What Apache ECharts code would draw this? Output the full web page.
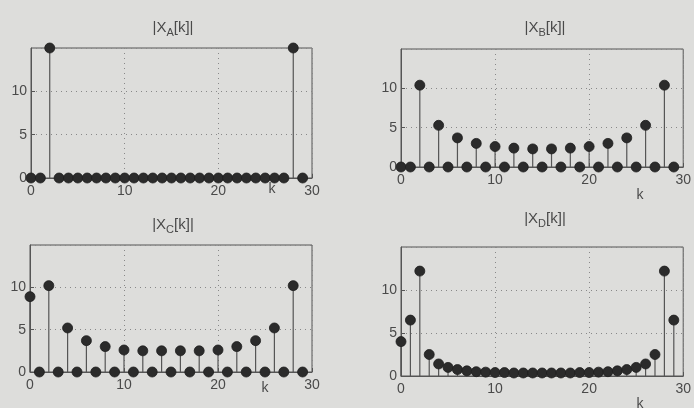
<!DOCTYPE html>
<html>
<head>
<meta charset="utf-8">
<script src="https://cdn.jsdelivr.net/npm/echarts@6/dist/echarts.min.js"></script>
<style>
html,body{margin:0;padding:0;background:#dddddb;}
#chart{width:694px;height:408px;}
</style>
</head>
<body>
<div id="chart"></div>
<script>
const kValues = [0,1,2,3,4,5,6,7,8,9,10,11,12,13,14,15,16,17,18,19,20,21,22,23,24,25,26,27,28,29];
const xA = [0,0,15,0,0,0,0,0,0,0,0,0,0,0,0,0,0,0,0,0,0,0,0,0,0,0,0,0,15,0];
const xB = [0,0,10.4,0,5.3,0,3.7,0,3.0,0,2.6,0,2.4,0,2.3,0,2.3,0,2.4,0,2.6,0,3.0,0,3.7,0,5.3,0,10.4,0];
const xC = [8.9,0,10.2,0,5.2,0,3.7,0,3.0,0,2.6,0,2.5,0,2.5,0,2.5,0,2.5,0,2.6,0,3.0,0,3.7,0,5.2,0,10.2,0];
const xD = [4.0,6.5,12.2,2.5,1.4,1.0,0.75,0.6,0.5,0.45,0.4,0.4,0.35,0.35,0.35,0.35,0.35,0.35,0.35,0.4,0.4,0.45,0.5,0.6,0.75,1.0,1.4,2.5,12.2,6.5];
const xTicks = [0,10,20,30];
const yTicks = [0,5,10];
const panelNames = ['A','B','C','D'];

const chart = echarts.init(document.getElementById('chart'));
const FONT = 'Liberation Sans';
const TXT = '#4a4a4a';

const grids = [
  {left:31, top:48, width:281, height:130},
  {left:401, top:49, width:288, height:118},
  {left:30, top:245, width:282, height:127},
  {left:401, top:247, width:288, height:129}
];
const titlePos = [[173,17],[545,17],[173,214],[545,208]];
const kPos = [[272,182],[640,188],[265,381],[640,397]];
const series = [xA,xB,xC,xD];

function stem(params, api){
  const k = api.value(0), v = api.value(1);
  const p0 = api.coord([k,0]);
  const p1 = api.coord([k,v]);
  return {type:'group', children:[
    {type:'line', shape:{x1:p0[0],y1:p0[1],x2:p1[0],y2:p1[1]}, style:{stroke:'#555', lineWidth:1.2}},
    {type:'circle', shape:{cx:p1[0],cy:p1[1],r:5}, style:{fill:'#2b2b2b', stroke:'#1e1e1e', lineWidth:0.8}}
  ]};
}

const option = {
  backgroundColor:'#dddddb',
  animation:false,
  grid: grids.map(g => Object.assign({show:true, borderColor:'#555', borderWidth:1, backgroundColor:'transparent'}, g)),
  xAxis: grids.map((g,i) => ({
    type:'value', gridIndex:i, min:0, max:30, interval:10,
    axisLine:{show:true, lineStyle:{color:'#555'}},
    axisTick:{show:true, inside:true, length:4, lineStyle:{color:'#555'}},
    axisLabel:{color:TXT, fontFamily:FONT, fontSize:14, margin:6},
    splitLine:{show:true, lineStyle:{color:'#888', type:[1,4], width:1}}
  })),
  yAxis: grids.map((g,i) => ({
    type:'value', gridIndex:i, min:0, max:15, interval:5,
    axisLine:{show:true, lineStyle:{color:'#555'}},
    axisTick:{show:true, inside:true, length:4, lineStyle:{color:'#555'}},
    axisLabel:{color:TXT, fontFamily:FONT, fontSize:14, margin:4, showMaxLabel:false},
    splitLine:{show:true, lineStyle:{color:'#888', type:[1,4], width:1}}
  })),
  series: series.map((vals,i) => ({
    type:'custom', xAxisIndex:i, yAxisIndex:i, clip:false,
    renderItem: stem,
    data: kValues.map((k,j) => [k, vals[j]])
  })),
  graphic: [
    ...panelNames.map((n,i) => ({
      type:'text', x:titlePos[i][0], y:titlePos[i][1],
      style:{
        text:'|X{s|' + n + '}[k]|', textAlign:'center', fill:TXT, fontFamily:FONT, fontSize:15,
        rich:{s:{fontSize:11, fill:TXT, fontFamily:FONT, padding:[10,0,0,0]}}
      }
    })),
    ...panelNames.map((n,i) => ({
      type:'text', x:kPos[i][0], y:kPos[i][1],
      style:{text:'k', textAlign:'center', fill:TXT, fontFamily:FONT, fontSize:14}
    }))
  ]
};
chart.setOption(option);
</script>
</body>
</html>
